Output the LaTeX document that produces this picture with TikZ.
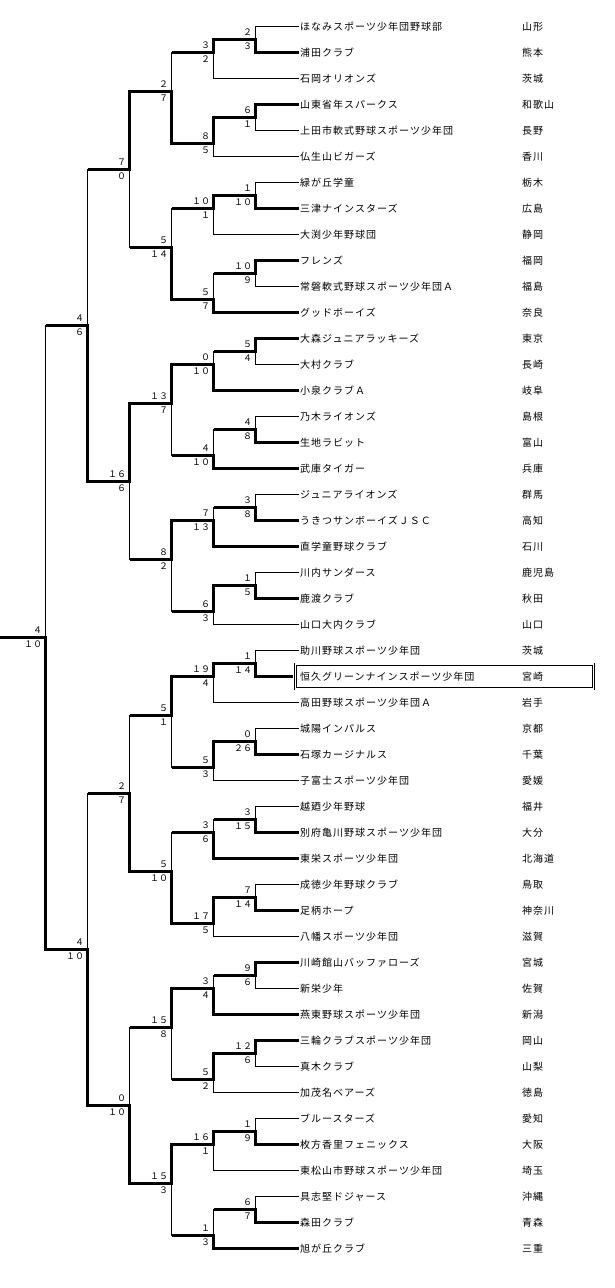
\documentclass[tikz,border=0pt]{standalone}
\usepackage{fontspec}
\usepackage{tikz}
\newfontfamily\teamfont[LetterSpace=10]{Noto Sans CJK JP}
\newfontfamily\scorefont[CharacterWidth=Full]{Noto Sans CJK JP}

\begin{document}
\begin{tikzpicture}[x=1pt, y=-1pt,
  wonline/.style={line width=3pt},
  lostline/.style={line width=1pt},
  team/.style={inner sep=0pt, anchor=base west, font=\teamfont\fontsize{10}{12}\selectfont},
  score/.style={inner sep=0pt, anchor=base east, font=\scorefont\fontsize{9}{9}\selectfont},
  champbox/.style={draw, double, double distance=1.7pt, line width=0.9pt, minimum width=298pt, minimum height=24.4pt, inner sep=0pt}]
%%%%% Frame %%%%%
\useasboundingbox (0,0) rectangle (614,1288);
%%%%% Teams %%%%%
\foreach \i/\nm/\pf in {1/ほなみスポーツ少年団野球部/山形, 2/浦田クラブ/熊本, 3/石岡オリオンズ/茨城,
  4/山東省年スパークス/和歌山, 5/上田市軟式野球スポーツ少年団/長野, 6/仏生山ビガーズ/香川,
  7/緑が丘学童/栃木, 8/三津ナインスターズ/広島, 9/大渕少年野球団/静岡,
  10/フレンズ/福岡, 11/常磐軟式野球スポーツ少年団Ａ/福島, 12/グッドボーイズ/奈良,
  13/大森ジュニアラッキーズ/東京, 14/大村クラブ/長崎, 15/小泉クラブＡ/岐阜,
  16/乃木ライオンズ/島根, 17/生地ラビット/富山, 18/武庫タイガー/兵庫,
  19/ジュニアライオンズ/群馬, 20/うきつサンボーイズＪＳＣ/高知, 21/直学童野球クラブ/石川,
  22/川内サンダース/鹿児島, 23/鹿渡クラブ/秋田, 24/山口大内クラブ/山口,
  25/助川野球スポーツ少年団/茨城, 26/恒久グリーンナインスポーツ少年団/宮崎, 27/高田野球スポーツ少年団Ａ/岩手,
  28/城陽インパルス/京都, 29/石塚カージナルス/千葉, 30/子富士スポーツ少年団/愛媛,
  31/越廼少年野球/福井, 32/別府亀川野球スポーツ少年団/大分, 33/東栄スポーツ少年団/北海道,
  34/成徳少年野球クラブ/鳥取, 35/足柄ホープ/神奈川, 36/八幡スポーツ少年団/滋賀,
  37/川崎館山バッファローズ/宮城, 38/新栄少年/佐賀, 39/燕東野球スポーツ少年団/新潟,
  40/三輪クラブスポーツ少年団/岡山, 41/真木クラブ/山梨, 42/加茂名ベアーズ/徳島,
  43/ブルースターズ/愛知, 44/枚方香里フェニックス/大阪, 45/東松山市野球スポーツ少年団/埼玉,
  46/具志堅ドジャース/沖縄, 47/森田クラブ/青森, 48/旭が丘クラブ/三重}{
  \node[team] (t\i) at (300, {26.5+26*(\i-1)+4.3}) {\nm};
  \node[team] (p\i) at (522, {26.5+26*(\i-1)+4.3}) {\pf};
  \coordinate (l\i) at (299, {26.5+26*(\i-1)});
}
\node[champbox] (hl) at (444.5, 676.5) {};
\coordinate (l26) at ([xshift=-1.7pt]hl.west);
%%%%% Match points %%%%%
\foreach \g in {0,...,15}{
  \pgfmathtruncatemacro\nn{\g+1}
  \pgfmathtruncatemacro\hb{6*\g+2+mod(\g,2)}
  \coordinate (a\nn) at (255.5, {26.5+13*(6*\g+1)});
  \coordinate (b\nn) at (213.5, {26.5+13*\hb});
}
\foreach \k in {0,...,7}{
  \pgfmathtruncatemacro\nn{\k+1}
  \coordinate (c\nn) at (171.5, {26.5+13*(12*\k+5)});
}
\foreach \k in {0,...,3}{
  \pgfmathtruncatemacro\nn{\k+1}
  \coordinate (d\nn) at (129.5, {26.5+13*(24*\k+11)});
}
\coordinate (e1) at (87.5, {26.5+13*23});
\coordinate (e2) at (87.5, {26.5+13*71});
\coordinate (f) at (45.5, {26.5+13*47});
\coordinate (champ) at (0, {26.5+13*47});
%%%%% Matches: name/top/bottom/next/top score/bottom score %%%%%
\foreach \mt/\ia/\ib/\nx/\su/\sv in {
  a1/l1/l2/b1/2/3, a2/l4/l5/b2/6/1, a3/l7/l8/b3/1/10, a4/l10/l11/b4/10/9,
  a5/l13/l14/b5/5/4, a6/l16/l17/b6/4/8, a7/l19/l20/b7/3/8, a8/l22/l23/b8/1/5,
  a9/l25/l26/b9/1/14, a10/l28/l29/b10/0/26, a11/l31/l32/b11/3/15, a12/l34/l35/b12/7/14,
  a13/l37/l38/b13/9/6, a14/l40/l41/b14/12/6, a15/l43/l44/b15/1/9, a16/l46/l47/b16/6/7,
  b1/a1/l3/c1/3/2, b2/a2/l6/c1/8/5, b3/a3/l9/c2/10/1, b4/a4/l12/c2/5/7,
  b5/a5/l15/c3/0/10, b6/a6/l18/c3/4/10, b7/a7/l21/c4/7/13, b8/a8/l24/c4/6/3,
  b9/a9/l27/c5/19/4, b10/a10/l30/c5/5/3, b11/a11/l33/c6/3/6, b12/a12/l36/c6/17/5,
  b13/a13/l39/c7/3/4, b14/a14/l42/c7/5/2, b15/a15/l45/c8/16/1, b16/a16/l48/c8/1/3,
  c1/b1/b2/d1/2/7, c2/b3/b4/d1/5/14, c3/b5/b6/d2/13/7, c4/b7/b8/d2/8/2,
  c5/b9/b10/d3/5/1, c6/b11/b12/d3/5/10, c7/b13/b14/d4/15/8, c8/b15/b16/d4/15/3,
  d1/c1/c2/e1/7/0, d2/c3/c4/e1/16/6, d3/c5/c6/e2/2/7, d4/c7/c8/e2/0/10,
  e1/d1/d2/f/4/6, e2/d3/d4/f/4/10,
  f/e1/e2/champ/4/10}{
  \ifnum\su>\sv
    \draw[lostline] (\ib) -- (\ib -| \mt) -- (\mt);
    \draw[wonline] (\ia) -- (\ia -| \mt) -- (\mt) -- (\mt -| \nx);
  \else
    \draw[lostline] (\ia) -- (\ia -| \mt) -- (\mt);
    \draw[wonline] (\ib) -- (\ib -| \mt) -- (\mt) -- (\mt -| \nx);
  \fi
  \node[score] (\mt-u) at ([xshift=-3.2pt, yshift=3.6pt]\mt) {\su};
  \node[score] (\mt-v) at ([xshift=-3.2pt, yshift=-9.7pt]\mt) {\sv};
}
\end{tikzpicture}
\end{document}
